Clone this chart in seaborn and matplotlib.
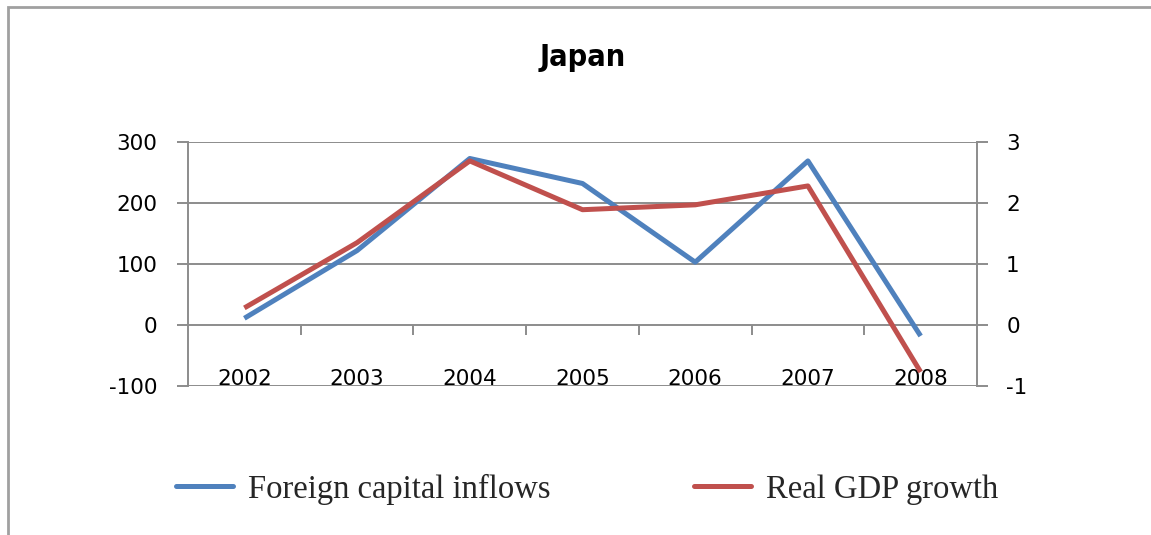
import matplotlib
matplotlib.use("Agg")
import matplotlib.pyplot as plt
import seaborn as sns
import pandas as pd
from matplotlib.patches import Rectangle
from matplotlib.lines import Line2D

years = ["2002", "2003", "2004", "2005", "2006", "2007", "2008"]
capital_inflows = [11, 122, 273, 232, 103, 269, -18]
gdp_growth = [0.28, 1.35, 2.69, 1.89, 1.97, 2.28, -0.77]
left_ticks = [-100, 0, 100, 200, 300]
right_ticks = [-1, 0, 1, 2, 3]

BLUE = "#4F81BD"
RED = "#C0504D"
GRID = "#8C8C8C"

sns.set_theme(style="white")
plt.rcParams["font.family"] = ["DejaVu Sans"]

df = pd.DataFrame({"pos": range(len(years)), "year": years,
                   "inflows": capital_inflows, "gdp": gdp_growth})

fig = plt.figure(figsize=(11.51, 5.35), dpi=100)
ax = fig.add_axes([188/1151, 1-386/535, (977-188)/1151, (386-142)/535])
ax2 = ax.twinx()

sns.lineplot(data=df, x="pos", y="inflows", ax=ax, color=BLUE, linewidth=3.6,
             solid_capstyle="butt", legend=False)
sns.lineplot(data=df, x="pos", y="gdp", ax=ax2, color=RED, linewidth=3.6,
             solid_capstyle="butt", legend=False)

ax.set_xlim(-0.5, len(years) - 0.5)
ax.set_ylim(left_ticks[0], left_ticks[-1])
ax2.set_ylim(right_ticks[0], right_ticks[-1])
ax.set_yticks(left_ticks)
ax2.set_yticks(right_ticks)
ax.set_yticklabels([str(v) for v in left_ticks])
ax2.set_yticklabels([str(v) for v in right_ticks])
ax.set_xlabel("")
ax.set_ylabel("")
ax2.set_ylabel("")

for t in left_ticks:
    ax.axhline(t, color=GRID, linewidth=1.4, zorder=0)

ax.set_xticks(range(len(years)))
ax.set_xticklabels(years)
ax.tick_params(axis="x", length=0, pad=-12.5, labelsize=15.5, labelcolor="black")
ax.tick_params(axis="y", direction="out", length=8, width=1.4, color=GRID,
               pad=14, labelsize=15.5, labelcolor="black", left=True)
ax2.tick_params(axis="y", direction="out", length=8, width=1.4, color=GRID,
                pad=13, labelsize=15.5, labelcolor="black", right=True)

for a in (ax, ax2):
    for s in a.spines.values():
        s.set_visible(False)
ax.spines["left"].set_visible(True)
ax.spines["left"].set_color(GRID)
ax.spines["left"].set_linewidth(1.4)
ax2.spines["right"].set_visible(True)
ax2.spines["right"].set_color(GRID)
ax2.spines["right"].set_linewidth(1.4)

# category tick marks on the zero line
sec = ax.secondary_xaxis((0 - left_ticks[0]) / (left_ticks[-1] - left_ticks[0]))
sec.set_xticks([i + 0.5 for i in range(len(years) - 1)])
sec.set_xticklabels([])
sec.tick_params(axis="x", direction="out", length=7, width=1.4, color=GRID)
sec.spines["bottom"].set_visible(False)
sec.spines["top"].set_visible(False)

fig.text(0.506, 1-58/535, "Japan", ha="center", va="center", fontsize=22,
         fontweight="bold", fontstretch="condensed", color="black")

handles = [Line2D([], [], color=BLUE, linewidth=3.6),
           Line2D([], [], color=RED, linewidth=3.6)]
fig.legend(handles, ["Foreign capital inflows", "Real GDP growth"],
           loc="center", bbox_to_anchor=(587/1151, 1-489/535), ncol=2,
           frameon=False, prop={"family": "Liberation Serif", "size": 23.5},
           handlelength=1.75, handletextpad=0.45, columnspacing=4.4)

fig.patches.append(Rectangle((8/1151, -0.05), 1.2, 1-7/535+0.05,
                             transform=fig.transFigure, fill=False,
                             edgecolor="#A0A0A0", linewidth=2.0))

fig.savefig("out.png", dpi=100)
